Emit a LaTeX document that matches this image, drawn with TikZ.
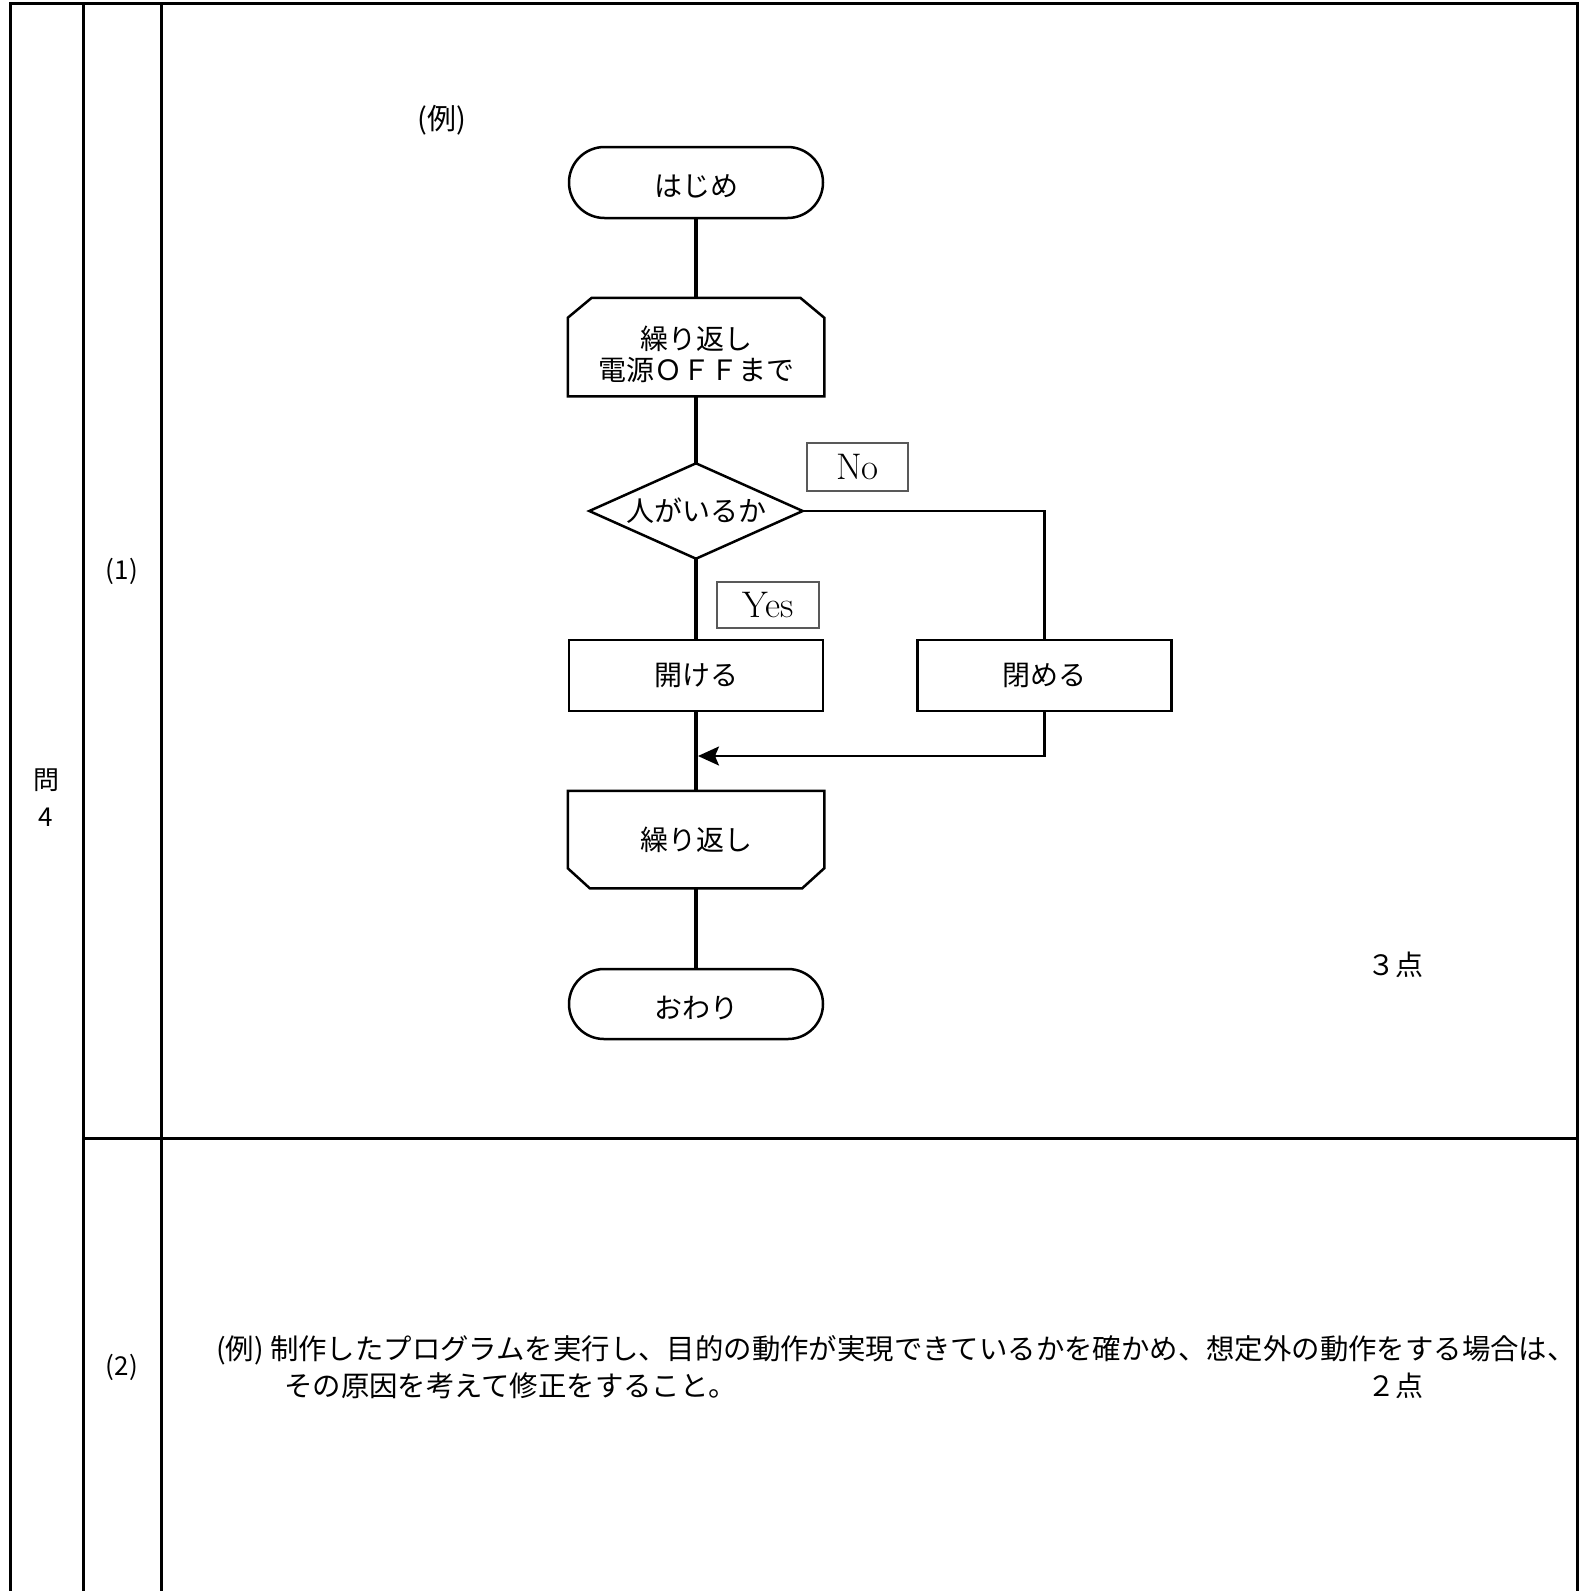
\documentclass[tikz,border=0pt]{standalone}
\usepackage{fontspec}
\newfontfamily\jp{Noto Sans CJK JP}
\usetikzlibrary{shapes.misc,arrows.meta}
\newcommand\flowfont{\jp\fontsize{28}{27}\selectfont}
\newcommand\bodyfont{\jp\fontsize{28.4}{30}\selectfont}
\newcommand\cellfont{\jp\fontsize{26}{37}\selectfont}
\newcommand\lowertext[2]{\raisebox{-#1}[\height][\depth]{#2}}
\begin{document}
\begin{tikzpicture}[x=1pt,y=-1pt,
  tbl/.style={line width=3pt, line cap=rect},
  flow/.style={line width=4.5pt},
  thinflow/.style={line width=2.2pt},
  boxline/.style={line width=2.5pt, line join=miter},
  box/.style={draw, line width=2.5pt, minimum width=254pt, minimum height=71pt, inner sep=0pt, font=\flowfont, align=center},
  loopbox/.style={box, draw=none, minimum height=96pt},
  term/.style={box, rounded rectangle},
  lab/.style={draw=black!65, line width=1.3pt, inner sep=0pt, font=\fontsize{37}{37}\selectfont},
  plain/.style={inner sep=0pt}
]
\useasboundingbox (0,0) rectangle (1581,1591);
% table
\draw[tbl] (10,1595) -- (10,3) -- (1577,3) -- (1577,1595);
\draw[tbl] (83,3) -- (83,1595);
\draw[tbl] (161,3) -- (161,1595);
\draw[tbl] (83,1138) -- (1577,1138);
\node[plain, font=\cellfont, align=center] (q) at (46,798) {問\\4};
\node[plain, font=\cellfont] (p1) at (122,571) {(1)};
\node[plain, font=\cellfont] (p2) at (122,1367) {(2)};
% part 1
\node[plain, font=\jp\fontsize{29}{29}\selectfont] (ex) at (442,120) {(例)};
\node[term] (start) at (696,182.5) {\lowertext{4pt}{はじめ}};
\node[loopbox] (loop1) at (696,347) {\lowertext{10pt}{\begin{tabular}{@{}c@{}}繰り返し\\電源ＯＦＦまで\end{tabular}}};
\draw[boxline] ([xshift=24pt]loop1.north west) -- ([xshift=-24pt]loop1.north east) -- ([yshift=-20pt]loop1.north east) -- (loop1.south east) -- (loop1.south west) -- ([yshift=-20pt]loop1.north west) -- cycle;
\node[plain, minimum width=213pt, minimum height=95pt, font=\flowfont] (dec) at (696,511) {人がいるか};
\draw[boxline] (dec.north) -- (dec.east) -- (dec.south) -- (dec.west) -- cycle;
\node[lab, minimum width=101pt, minimum height=48pt] (no) at (857.5,467) {No};
\node[lab, minimum width=102pt, minimum height=46pt] (yes) at (768,605) {Yes};
\node[box] (open) at (696,675.5) {開ける};
\node[box] (close) at (1044.5,675.5) {閉める};
\node[loopbox, minimum height=95pt] (loop2) at (696,839.5) {繰り返し};
\draw[boxline] (loop2.north west) -- (loop2.north east) -- ([yshift=20pt]loop2.south east) -- ([xshift=-22pt]loop2.south east) -- ([xshift=22pt]loop2.south west) -- ([yshift=20pt]loop2.south west) -- cycle;
\node[term, minimum height=70pt] (end) at (696,1004) {\lowertext{4pt}{おわり}};
\coordinate (merge) at (698,756);
\draw[flow] (start.south) -- (loop1.north);
\draw[flow] (loop1.south) -- (dec.north);
\draw[flow] (dec.south) -- (open.north);
\draw[thinflow] (dec.east) -| (close.north);
\draw[flow] (open.south) -- (loop2.north);
\draw[thinflow, -{Stealth[length=21pt,width=19pt,inset=4pt]}] (close.south) |- (merge);
\draw[flow] (loop2.south) -- (end.north);
\node[plain, font=\flowfont] (pt3) at (1395,965) {３点};
% part 2
\node[plain, anchor=west, font=\bodyfont] (ans1) at (216,1350) {(例) 制作したプログラムを実行し、目的の動作が実現できているかを確かめ、想定外の動作をする場合は、};
\node[plain, anchor=west, font=\bodyfont] (ans2) at (284,1386) {その原因を考えて修正をすること。};
\node[plain, font=\flowfont] (pt2) at (1395,1386) {２点};
\end{tikzpicture}
\end{document}
